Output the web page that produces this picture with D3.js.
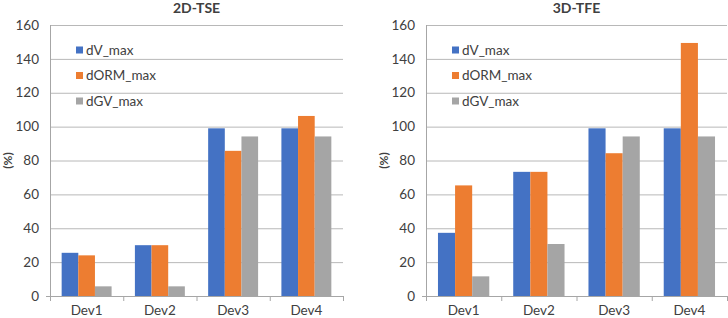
<!DOCTYPE html>
<html>
<head>
<meta charset="utf-8">
<script src="https://cdn.jsdelivr.net/npm/d3@7"></script>
<style>
  body { margin: 0; background: #fff; }
  svg text { font-family: Lato, "Open Sans", sans-serif; fill: #404040; }
</style>
</head>
<body>
<div id="root"></div>
<script>
// data
var devices = ["Dev1", "Dev2", "Dev3", "Dev4"]
var series = ["dV_max", "dORM_max", "dGV_max"]
var colors = ["#4472C4", "#ED7D31", "#A5A5A5"]
var yTicks = [0, 20, 40, 60, 80, 100, 120, 140, 160]

// 2D-TSE values per series (Dev1..Dev4)
var tse_dV   = [25.5, 30, 99, 99]
var tse_dORM = [24, 30, 85.7, 106.3]
var tse_dGV  = [5.7, 5.7, 94.2, 94.2]

// 3D-TFE
var tfe_dV   = [37.3, 73.3, 99, 99]
var tfe_dORM = [65.3, 73.3, 84.3, 149.4]
var tfe_dGV  = [11.6, 30.7, 94.2, 94.2]

var W = 728, H = 318
var plotTop = 25, plotBottom = 296

var svg = d3.select("#root").append("svg")
  .attr("width", W).attr("height", H)

function makeTranslate(x, y) {
  return "translate(" + x + " " + y + ")"
}

function drawPanel(title, vals, left, right, ylabX) {
  var g = svg.append("g")

  var y = d3.scaleLinear().domain([0, 160]).range([plotBottom, plotTop])
  var x = d3.scaleBand().domain(devices).range([left, right]).padding(0)
  var xs = d3.scaleBand().domain(series).range([0, x.bandwidth()])
    .paddingInner(0).paddingOuter(0.7)

  // gridlines
  g.selectAll(".grid").data(yTicks.filter(d => d > 0)).enter().append("line")
    .attr("x1", left).attr("x2", right)
    .attr("y1", d => y(d) + 0.5).attr("y2", d => y(d) + 0.5)
    .attr("stroke", "#b8b8b8").attr("stroke-width", 1)

  // y tick labels
  g.selectAll(".ylab").data(yTicks).enter().append("text")
    .attr("x", left - 11).attr("y", d => y(d))
    .attr("dy", "0.35em").attr("text-anchor", "end")
    .style("font-size", "13.5px")
    .text(d => d)

  // bars
  series.forEach(function(s, i) {
    g.selectAll(".bar" + i).data(devices).enter().append("rect")
      .attr("x", d => x(d) + xs(s))
      .attr("width", xs.bandwidth())
      .attr("y", (d, j) => y(vals[i][j]))
      .attr("height", (d, j) => y(0) - y(vals[i][j]))
      .attr("fill", colors[i])
  })

  // axes lines
  g.append("line").attr("x1", left + 0.5).attr("x2", left + 0.5)
    .attr("y1", plotTop).attr("y2", plotBottom)
    .attr("stroke", "#a6a6a6")
  g.append("line").attr("x1", left - 4).attr("x2", right)
    .attr("y1", plotBottom + 0.5).attr("y2", plotBottom + 0.5)
    .attr("stroke", "#a6a6a6")
  var bounds = devices.map(d => x(d)).concat([right])
  g.selectAll(".xt").data(bounds).enter().append("line")
    .attr("x1", d => d + 0.5).attr("x2", d => d + 0.5)
    .attr("y1", plotBottom).attr("y2", plotBottom + 5)
    .attr("stroke", "#a6a6a6")

  // x labels
  g.selectAll(".xlab").data(devices).enter().append("text")
    .attr("x", d => x(d) + x.bandwidth() / 2)
    .attr("y", 315).attr("text-anchor", "middle")
    .style("font-size", "13.5px")
    .text(d => d)

  // title
  g.append("text")
    .attr("x", (left + right) / 2).attr("y", 13)
    .attr("text-anchor", "middle")
    .style("font-size", "14px").style("font-weight", "bold")
    .text(title)

  // y label
  g.append("text")
    .attr("transform", makeTranslate(ylabX, (plotTop + plotBottom) / 2) + " rotate(-90)")
    .attr("text-anchor", "middle").attr("dy", "0.35em")
    .style("font-size", "12px").style("font-weight", "bold")
    .text("(%)")

  // legend
  var leg = g.append("g").attr("transform", makeTranslate(left + 26, 50))
  series.forEach(function(s, i) {
    var row = leg.append("g").attr("transform", makeTranslate(0, i * 25.5))
    row.append("rect").attr("x", 0).attr("y", -3.5)
      .attr("width", 7).attr("height", 7).attr("fill", colors[i])
    row.append("text").attr("x", 10).attr("y", 0).attr("dy", "0.35em")
      .style("font-size", "13.5px")
      .text(s)
  })
}

drawPanel("2D-TSE", [tse_dV, tse_dORM, tse_dGV], 50, 343, 8)
drawPanel("3D-TFE", [tfe_dV, tfe_dORM, tfe_dGV], 426, 727, 384)
</script>
</body>
</html>
